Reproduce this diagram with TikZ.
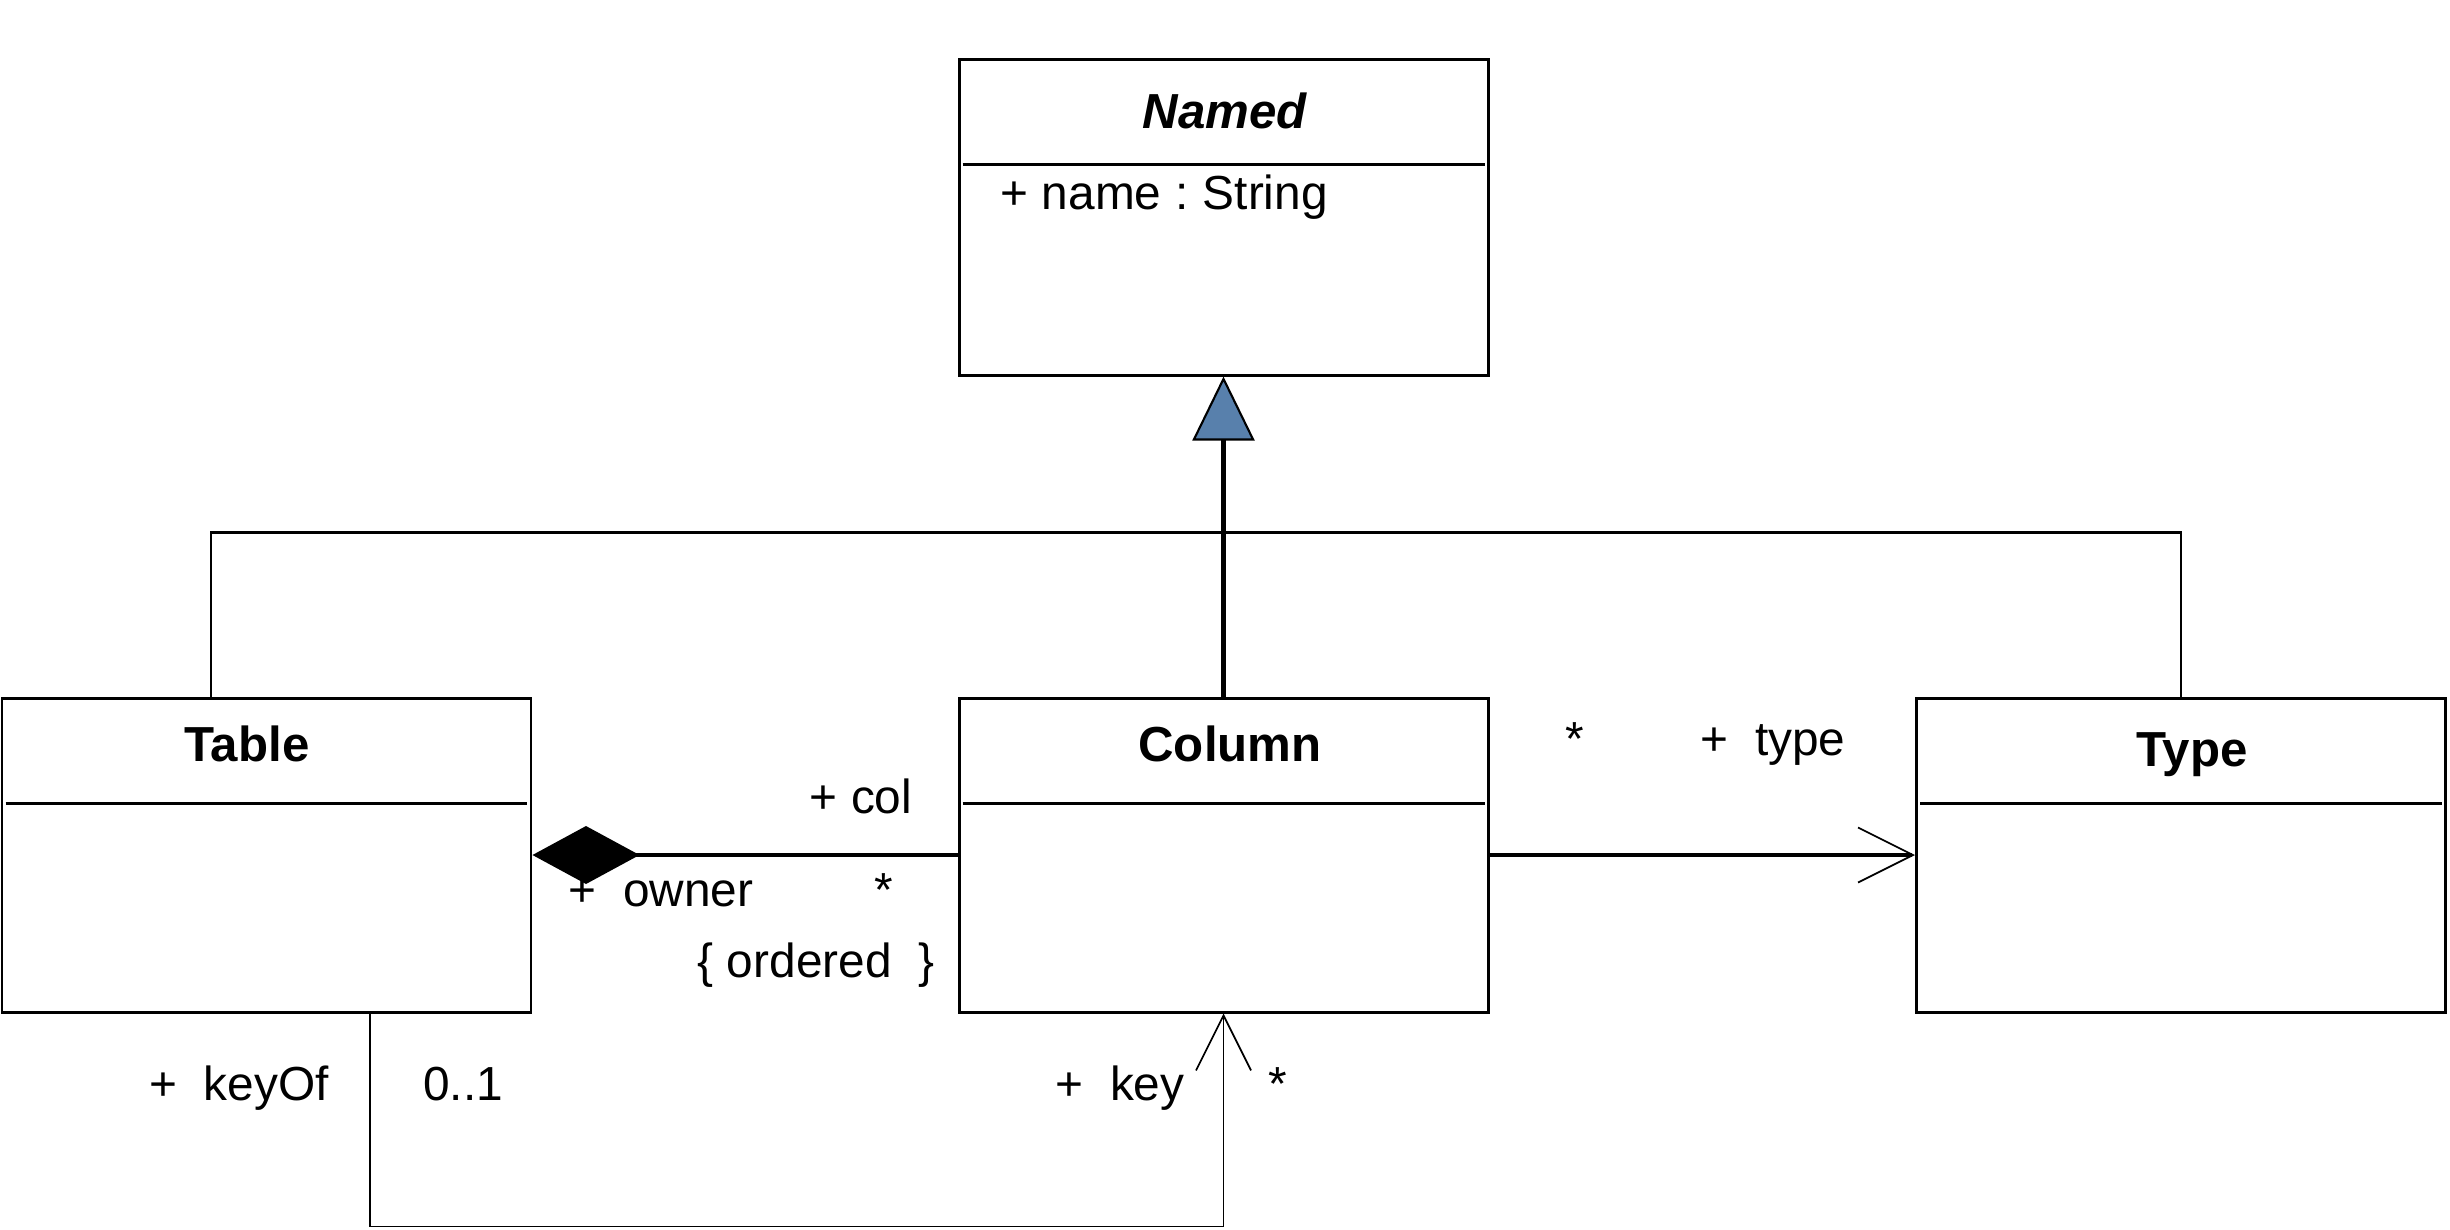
\documentclass[tikz,border=0pt]{standalone}
\usepackage{fontspec}
\setmainfont{Liberation Sans}
\usetikzlibrary{arrows.meta}
\definecolor{genblue}{RGB}{88,128,172}

\begin{document}
\begin{tikzpicture}[
    font=\fontsize{13.6}{16}\selectfont,
    classbox/.style={draw, line width=0.85pt, minimum width=5.29cm, minimum height=3.14cm, inner sep=0pt},
    classname/.style={anchor=base, font=\fontsize{14}{16}\selectfont\bfseries},
    role/.style={anchor=base, inner sep=0pt},
    openhead/.style={-{Straight Barb[length=0.55cm,width=0.55cm,line width=0.5pt]}}
  ]
    \useasboundingbox (0,0) rectangle (24.5,-12.29);
    % classes
    \node[classbox, minimum height=3.16cm] (named) at (12.235,-2.17) {};
    \node[classbox] (table) at (2.665,-8.55) {};
    \node[classbox] (column) at (12.235,-8.55) {};
    \node[classbox] (type) at (21.81,-8.55) {};
    \foreach \c in {named,table,column,type}
    {
      \draw[line width=0.6pt] ([xshift=0.05cm,yshift=-1.07cm]\c.north west) -- ([xshift=-0.05cm,yshift=-1.07cm]\c.north east);
    }
    \node[classname, font=\fontsize{14}{16}\selectfont\bfseries\itshape] (namedtitle) at (12.25,-1.28) {Named};
    \node[classname] (tabletitle) at (2.47,-7.61) {Table};
    \node[classname] (columntitle) at (12.30,-7.61) {Column};
    \node[classname] (typetitle) at (21.92,-7.66) {Type};
    \node[role, anchor=base west] (nameattr) at (10.00,-2.09) {+ name\hspace{4pt}:\hspace{4pt}String};
    % generalization
    \draw[line width=0.6pt] ([xshift=-0.555cm]table.north) -- ++(0,1.64) -| (type.north);
    \draw[line width=1.4pt, -{Triangle[width=0.62cm,length=0.64cm,fill=genblue,line width=0.6pt]}] (column.north) -- (named.south);
    % composition
    \draw[line width=0.9pt, {Diamond[width=0.58cm,length=1.07cm]}-] (table.east) -- (column.west);
    \node[role] (collabel) at (8.61,-8.13) {+ col};
    \node[role] (ownerlabel) at (6.61,-9.06) {+~~owner};
    \node[role] (colmult) at (8.84,-9.06) {*};
    \node[role] (orderedlabel) at (8.16,-9.77) {\{ ordered~~\}};
    % association to type
    \draw[line width=0.9pt, openhead] (column.east) -- (type.west);
    \node[role] (typemult) at (15.75,-7.55) {*};
    \node[role] (typelabel) at (17.73,-7.55) {+~~type};
    % key
    \draw[line width=0.5pt, openhead] ([xshift=1.035cm]table.south) -- ++(0,-2.13) -| (column.south);
    \node[role] (keyoflabel) at (2.39,-11.00) {+~~keyOf};
    \node[role] (keyofmult) at (4.63,-11.00) {0..1};
    \node[role] (keylabel) at (11.20,-11.00) {+~~key};
    \node[role] (keymult) at (12.78,-11.00) {*};
\end{tikzpicture}
\end{document}
